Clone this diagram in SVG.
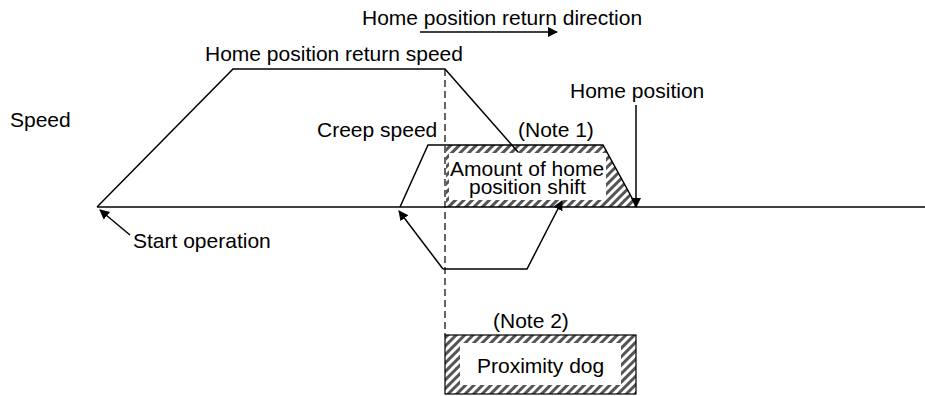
<svg xmlns="http://www.w3.org/2000/svg" width="925" height="396" viewBox="0 0 925 396">
<style>
text{font-family:"Liberation Sans",Arial,sans-serif;font-size:21px;fill:#000}
.ln{stroke:#000;stroke-width:1.5;fill:none}
.dash{stroke:#000;stroke-width:1.2;fill:none;stroke-dasharray:7 4}
</style>
<defs>
<pattern id="hatch" patternUnits="userSpaceOnUse" width="6" height="6" patternTransform="rotate(45)">
<rect width="6" height="6" fill="#fff"/>
<rect x="0" y="0" width="3" height="6" fill="#555"/>
</pattern>
<marker id="ah" viewBox="0 0 10 10" refX="9" refY="5" markerWidth="10" markerHeight="10" markerUnits="userSpaceOnUse" orient="auto">
<path d="M0,0 L10,5 L0,10 z" fill="#000"/>
</marker>
</defs>
<g id="labels">
<text x="362" y="25">Home position return direction</text>
<text x="205" y="61">Home position return speed</text>
<text x="10" y="127">Speed</text>
<text x="317" y="137">Creep speed</text>
<text x="570" y="98">Home position</text>
<text x="133" y="248">Start operation</text>
</g>
<g id="note1">
<path d="M446,145 L603,145 L637,207 L446,207 Z" fill="url(#hatch)"/>
<rect x="449" y="153" width="157" height="47" fill="#fff"/>
<text x="518" y="137">(Note 1)</text>
<text x="450" y="176">Amount of home</text>
<text x="469" y="194">position shift</text>
</g>
<g id="proximity-dog">
<rect x="445" y="335" width="191" height="59" fill="url(#hatch)" stroke="#000" stroke-width="1.2"/>
<rect x="460" y="343" width="161" height="42" fill="#fff"/>
<text x="493" y="328">(Note 2)</text>
<text x="477" y="373">Proximity dog</text>
</g>
<g id="connectors">
<line class="ln" x1="97" y1="207" x2="925" y2="207"/>
<polyline class="ln" points="97,207 233,69 445,69 518,152"/>
<polyline class="ln" points="400,207 428,145 603,145 637,207"/>
<line class="dash" x1="445" y1="69" x2="445" y2="335"/>
<line class="ln" x1="420" y1="32" x2="557" y2="32" marker-end="url(#ah)"/>
<line class="ln" x1="636" y1="105" x2="636" y2="207" marker-end="url(#ah)"/>
<line class="ln" x1="130" y1="235" x2="100" y2="210" marker-end="url(#ah)"/>
<polyline class="ln" points="443,269 399,211" marker-end="url(#ah)"/>
<polyline class="ln" points="443,269 527,269 562,201" marker-end="url(#ah)"/>
</g>
</svg>
